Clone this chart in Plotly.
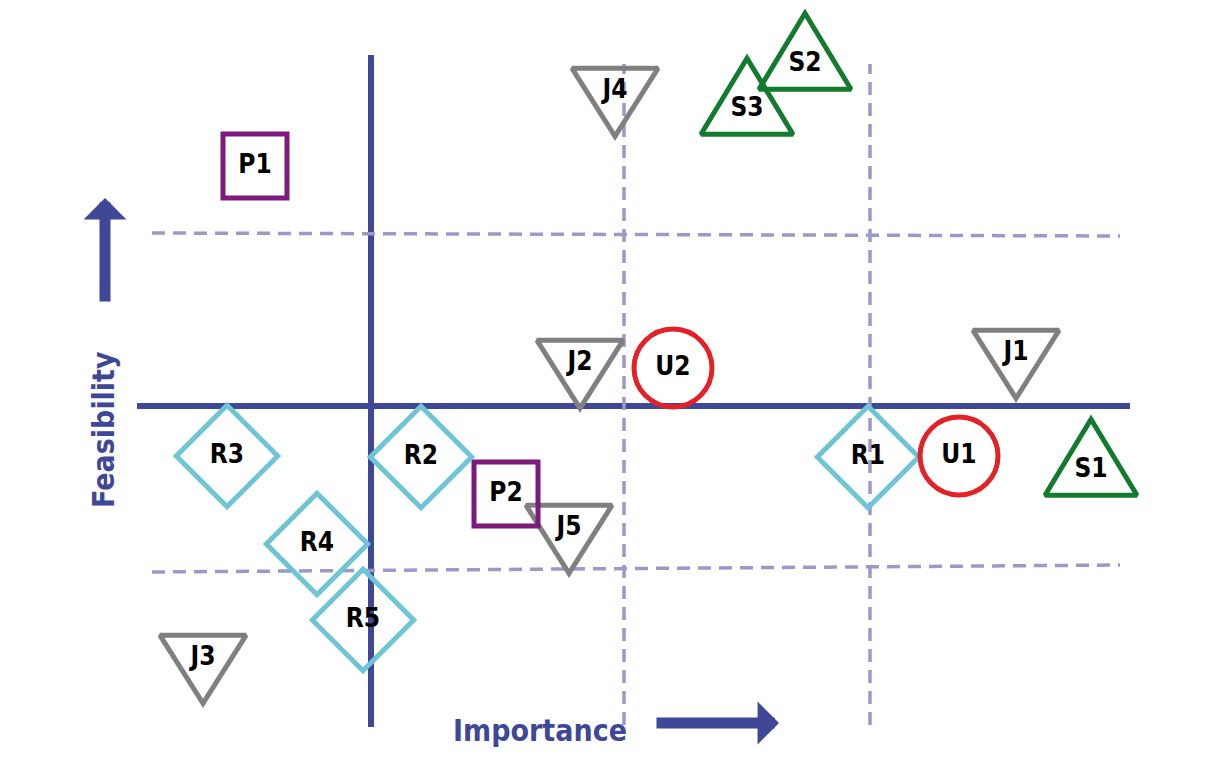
import plotly.graph_objects as go

# positions in a 0..1213 (importance) x 0..780 (feasibility) plane
P_labels = ["P1", "P2"]
P_x = [255, 506]
P_y = [614, 286]

R_labels = ["R1", "R2", "R3", "R4", "R5"]
R_x = [868, 421, 227, 317, 363]
R_y = [323, 323, 324, 236, 160]

S_labels = ["S1", "S2", "S3"]
S_x = [1091, 805, 747]
S_y = [310, 716, 671]

J_labels = ["J1", "J2", "J3", "J4", "J5"]
J_x = [1016, 580, 203, 615, 569]
J_y = [427, 417, 122, 689, 252]

U_labels = ["U1", "U2"]
U_x = [959, 673]
U_y = [324, 412]

# quadrant lines
axis_x = 371
axis_y = 374
axis_x_span = [137, 1130]
axis_y_span = [53, 725]
dash_h_top_y = [547, 544]
dash_h_bot_y = [208, 215]
dash_h_span = [152, 1120]
dash_v_x = [624, 870]
dash_v_span = [55, 716]

DARK = "#3f4797"
LIGHT = "#9b98ca"
LABEL_FONT = "DejaVu Sans Condensed, Liberation Sans Narrow, sans-serif"


def triangles(xs, ys, w, h, up=True):
    # outline of a triangle around each centroid
    px, py = [], []
    s = 1 if up else -1
    for cx, cy in zip(xs, ys):
        px += [cx - w / 2, cx + w / 2, cx, cx - w / 2, cx + w / 2, None]
        py += [cy - s * h / 3, cy - s * h / 3, cy + s * 2 * h / 3, cy - s * h / 3, cy - s * h / 3, None]
    return px, py


fig = go.Figure()

# solid axes
fig.add_trace(go.Scatter(x=[axis_x, axis_x], y=axis_y_span, mode="lines",
                         line=dict(color=DARK, width=6), hoverinfo="skip"))
fig.add_trace(go.Scatter(x=axis_x_span, y=[axis_y, axis_y], mode="lines",
                         line=dict(color=DARK, width=6), hoverinfo="skip"))

# dashed lines
for ys in [dash_h_top_y, dash_h_bot_y]:
    fig.add_trace(go.Scatter(x=dash_h_span, y=ys, mode="lines",
                             line=dict(color=LIGHT, width=3.5, dash="13px,8px"), hoverinfo="skip"))
for xv in dash_v_x:
    fig.add_trace(go.Scatter(x=[xv, xv], y=dash_v_span, mode="lines",
                             line=dict(color=LIGHT, width=3.5, dash="13px,8px"), hoverinfo="skip"))

# triangles
sx, sy = triangles(S_x, S_y, 92, 76, up=True)
fig.add_trace(go.Scatter(x=sx, y=sy, mode="lines", line=dict(color="#127b2e", width=5),
                         hoverinfo="skip"))
jx, jy = triangles(J_x, J_y, 86, 68, up=False)
fig.add_trace(go.Scatter(x=jx, y=jy, mode="lines", line=dict(color="#808080", width=5),
                         hoverinfo="skip"))

groups = [
    (P_labels, P_x, P_y, "square-open", 64, "#7d1a7d"),
    (R_labels, R_x, R_y, "diamond-open", 78, "#6ec5d7"),
    (U_labels, U_x, U_y, "circle-open", 78, "#e32227"),
]
for labels, xs, ys, sym, size, col in groups:
    fig.add_trace(go.Scatter(
        x=xs, y=ys, mode="markers",
        marker=dict(symbol=sym, size=size, color=col, line=dict(color=col, width=5)),
        hoverinfo="skip"))

# labels
for labels, xs, ys in [(P_labels, P_x, P_y), (R_labels, R_x, R_y), (S_labels, S_x, S_y),
                       (J_labels, J_x, J_y), (U_labels, U_x, U_y)]:
    fig.add_trace(go.Scatter(
        x=xs, y=ys, mode="text", text=labels, textposition="middle center",
        textfont=dict(family=LABEL_FONT, size=26, color="black", weight="bold"),
        hoverinfo="text"))

# direction arrows
fig.add_annotation(x=105, y=582, ax=105, ay=477, xref="x", yref="y", axref="x", ayref="y",
                   text="", showarrow=True, arrowhead=1, arrowsize=0.65, arrowwidth=11,
                   arrowcolor=DARK)
fig.add_annotation(x=779, y=57, ax=655, ay=57, xref="x", yref="y", axref="x", ayref="y",
                   text="", showarrow=True, arrowhead=1, arrowsize=0.65, arrowwidth=11,
                   arrowcolor=DARK)

fig.add_annotation(x=103, y=350, xref="x", yref="y", text="Feasibility", textangle=-90,
                   showarrow=False, font=dict(family=LABEL_FONT, size=30, color=DARK, weight="bold"))
fig.add_annotation(x=540, y=50, xref="x", yref="y", text="Importance",
                   showarrow=False, font=dict(family=LABEL_FONT, size=30, color=DARK, weight="bold"))

fig.update_layout(
    width=1213, height=780, showlegend=False,
    margin=dict(l=0, r=0, t=0, b=0),
    paper_bgcolor="white", plot_bgcolor="white",
    xaxis=dict(range=[0, 1213], visible=False, fixedrange=True),
    yaxis=dict(range=[0, 780], visible=False, fixedrange=True),
)

fig.write_html("out.html", config={"displayModeBar": False},
               post_script="document.body.style.margin = '0';")
